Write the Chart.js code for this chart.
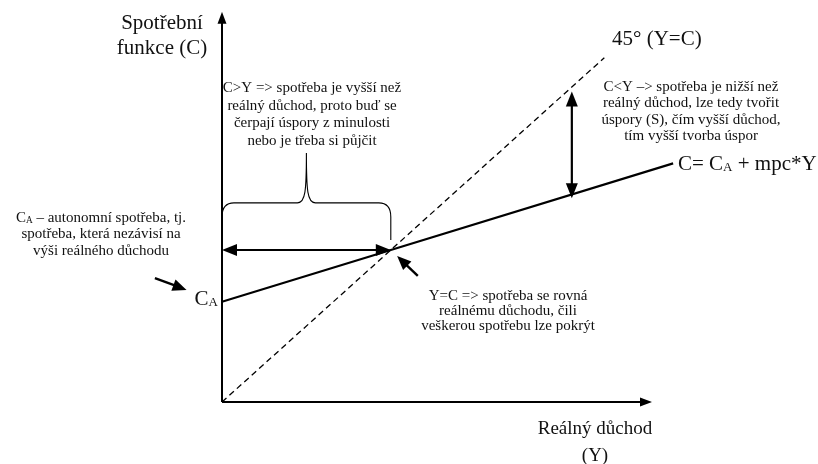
<!DOCTYPE html>
<html><head><meta charset="utf-8">
<script src="https://cdn.jsdelivr.net/npm/chart.js@4"></script>
<style>html,body{margin:0;padding:0;background:#fff}#wrap{width:818px;height:464px;position:relative}</style>
</head><body><div id="wrap"><canvas id="c"></canvas></div>
<script>
// ---- Data (model units: Y = real income, C = consumption) ----
const incomeAxisEnd = 10.19;
const consumptionAxisEnd = 10.27;
const consumptionY = [0, 4, 10.69];        // C = C_A + mpc*Y
const consumptionC = [2.64, 4, 6.28];
const line45Y = [0, 9.06];                 // 45° (Y=C)
const line45C = [0, 9.06];
const dissavingArrowY = [0, 4];            // horizontal double arrow at C = 4
const dissavingArrowC = [4, 4];
const savingArrowY = [8.29, 8.29];         // vertical double arrow (savings)
const savingArrowC = [5.36, 8.17];
const braceY = [0, 2, 4];                  // left, peak, right
const braceC = [4.26, 6.55, 5.24];         // end level, peak, top level
const pointerCAY = [-1.59, -0.84];         // arrow pointing to C_A
const pointerCAC = [3.26, 2.95];
const pointerEqY = [4.64, 4.15];           // arrow pointing to Y=C point
const pointerEqC = [3.32, 3.84];

// ---- Texts ----
const labelYAxis = ['Spotřební', 'funkce (C)'];
const labelXAxis = ['Reálný důchod', '(Y)'];
const label45 = '45° (Y=C)';
const labelFunc = 'C= C{A} + mpc*Y';
const labelCA = 'C{A}';
const noteDissaving = ['C>Y => spotřeba je vyšší než', 'reálný důchod, proto buď se', 'čerpají úspory z minulosti', 'nebo je třeba si půjčit'];
const noteSaving = ['C<Y –> spotřeba je nižší než', 'reálný důchod, lze tedy tvořit', 'úspory (S), čím vyšší důchod,', 'tím vyšší tvorba úspor'];
const noteAutonomous = ['C{A} – autonomní spotřeba, tj.', 'spotřeba, která nezávisí na', 'výši reálného důchodu'];
const noteEquilibrium = ['Y=C => spotřeba se rovná', 'reálnému důchodu, čili', 'veškerou spotřebu lze pokrýt'];

const FONT = '"Liberation Serif", "Times New Roman", serif';
const INK = '#111';

function pts(xs, ys) { return xs.map((x, i) => ({x: x, y: ys[i]})); }

function drawRich(ctx, str, x, y, size, align) {
  const segs = [];
  str.split(/(\{[^}]*\})/).forEach(s => {
    if (!s) return;
    if (s[0] === '{') segs.push({t: s.slice(1, -1), sub: true});
    else segs.push({t: s, sub: false});
  });
  let total = 0;
  segs.forEach(s => {
    s.size = s.sub ? size * 0.62 : size;
    ctx.font = s.size + 'px ' + FONT;
    s.w = ctx.measureText(s.t).width;
    total += s.w;
  });
  let cx = align === 'center' ? x - total / 2 : (align === 'right' ? x - total : x);
  const base = y + size * 0.33;
  ctx.textAlign = 'left';
  ctx.textBaseline = 'alphabetic';
  segs.forEach(s => {
    ctx.font = s.size + 'px ' + FONT;
    ctx.fillText(s.t, cx, s.sub ? base + size * 0.06 : base);
    cx += s.w;
  });
}

function drawLines(ctx, lines, x, ys, size, align) {
  lines.forEach((l, i) => drawRich(ctx, l, x, ys[i], size, align));
}

function head(ctx, fx, fy, tx, ty, len, wid) {
  const a = Math.atan2(ty - fy, tx - fx);
  const c = Math.cos(a), s = Math.sin(a);
  const bx = tx - c * len, by = ty - s * len;
  ctx.beginPath();
  ctx.moveTo(tx, ty);
  ctx.lineTo(bx - s * wid / 2, by + c * wid / 2);
  ctx.lineTo(bx + s * wid / 2, by - c * wid / 2);
  ctx.closePath();
  ctx.fill();
}

function arrow(ctx, fx, fy, tx, ty, opts) {
  const len = opts.len, wid = opts.wid;
  const a = Math.atan2(ty - fy, tx - fx);
  const c = Math.cos(a), s = Math.sin(a);
  ctx.lineWidth = opts.lw;
  ctx.beginPath();
  ctx.moveTo(opts.both ? fx + c * len * 0.8 : fx, opts.both ? fy + s * len * 0.8 : fy);
  ctx.lineTo(tx - c * len * 0.8, ty - s * len * 0.8);
  ctx.stroke();
  head(ctx, fx, fy, tx, ty, len, wid);
  if (opts.both) head(ctx, tx, ty, fx, fy, len, wid);
}

const diagramPlugin = {
  id: 'diagram',
  afterDatasetsDraw(chart) {
    const ctx = chart.ctx, X = chart.scales.x, Y = chart.scales.y;
    const px = v => X.getPixelForValue(v), py = v => Y.getPixelForValue(v);
    ctx.save();
    ctx.strokeStyle = '#000';
    ctx.fillStyle = '#000';
    ctx.lineCap = 'butt';
    // axes
    arrow(ctx, px(0), py(0), px(incomeAxisEnd), py(0), {len: 12, wid: 9, lw: 2});
    arrow(ctx, px(0), py(0), px(0), py(consumptionAxisEnd), {len: 12, wid: 9, lw: 2});
    // double arrows
    arrow(ctx, px(dissavingArrowY[0]), py(dissavingArrowC[0]), px(dissavingArrowY[1]), py(dissavingArrowC[1]), {len: 15, wid: 12, lw: 2.2, both: true});
    arrow(ctx, px(savingArrowY[0]), py(savingArrowC[0]), px(savingArrowY[1]), py(savingArrowC[1]), {len: 15, wid: 12, lw: 2.2, both: true});
    // pointers
    arrow(ctx, px(pointerCAY[0]), py(pointerCAC[0]), px(pointerCAY[1]), py(pointerCAC[1]), {len: 14, wid: 12, lw: 2.4});
    arrow(ctx, px(pointerEqY[0]), py(pointerEqC[0]), px(pointerEqY[1]), py(pointerEqC[1]), {len: 14, wid: 12, lw: 2.4});
    // brace
    const x0 = px(braceY[0]), xm = px(braceY[1]), x1 = px(braceY[2]);
    const yEnd = py(braceC[0]), yPeak = py(braceC[1]), yTop = py(braceC[2]);
    ctx.lineWidth = 1.1;
    ctx.beginPath();
    ctx.moveTo(x0, yEnd);
    ctx.lineTo(x0, yTop + 14);
    ctx.quadraticCurveTo(x0, yTop, x0 + 12, yTop);
    ctx.lineTo(xm - 9, yTop);
    ctx.bezierCurveTo(xm - 1, yTop, xm, yTop - 12, xm, yPeak);
    ctx.bezierCurveTo(xm, yTop - 12, xm + 1, yTop, xm + 9, yTop);
    ctx.lineTo(x1 - 12, yTop);
    ctx.quadraticCurveTo(x1, yTop, x1, yTop + 14);
    ctx.lineTo(x1, yEnd);
    ctx.stroke();
    // texts
    ctx.fillStyle = INK;
    drawLines(ctx, labelYAxis, 162, [22, 47], 21, 'center');
    drawLines(ctx, labelXAxis, 595, [428, 455], 19, 'center');
    drawRich(ctx, label45, 612, 38, 21, 'left');
    drawRich(ctx, labelFunc, 678, 163, 21, 'left');
    drawRich(ctx, labelCA, 218, 298, 21, 'right');
    drawLines(ctx, noteDissaving, 312, [87, 105, 122, 140], 15, 'center');
    drawLines(ctx, noteSaving, 691, [86, 102.5, 119, 135.5], 15, 'center');
    drawLines(ctx, noteAutonomous, 101, [217, 233.5, 250], 15, 'center');
    drawLines(ctx, noteEquilibrium, 508, [295, 310, 325], 15, 'center');
    ctx.restore();
  }
};

new Chart(document.getElementById('c'), {
  type: 'scatter',
  data: {
    datasets: [
      {label: '45° (Y=C)', data: pts(line45Y, line45C), showLine: true, borderColor: '#000', borderWidth: 1.3, borderDash: [6, 4], pointRadius: 0, clip: false},
      {label: 'C = CA + mpc*Y', data: pts(consumptionY, consumptionC), showLine: true, borderColor: '#000', borderWidth: 2.2, pointRadius: 0, clip: false}
    ]
  },
  options: {
    responsive: true,
    maintainAspectRatio: false,
    animation: false,
    events: [],
    layout: {padding: {left: 222, right: 89.6, top: 3, bottom: 62}},
    plugins: {legend: {display: false}, tooltip: {enabled: false}},
    scales: {
      x: {type: 'linear', min: 0, max: 12, display: false},
      y: {type: 'linear', min: 0, max: 10.5, display: false}
    }
  },
  plugins: [diagramPlugin]
});
</script>
</body></html>
